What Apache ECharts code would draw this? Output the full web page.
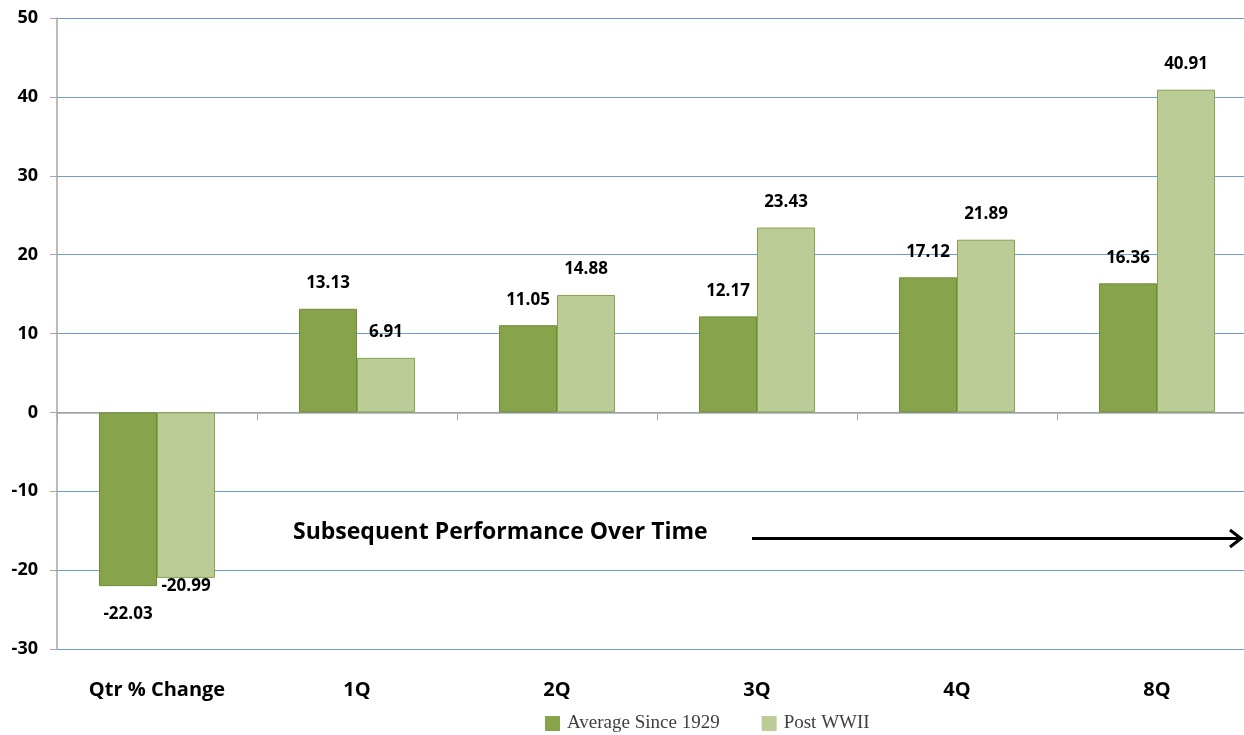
<!DOCTYPE html>
<html>
<head>
<meta charset="utf-8">
<script src="https://cdn.jsdelivr.net/npm/echarts@6/dist/echarts.min.js"></script>
<style>html,body{margin:0;padding:0;background:#fff}#c{width:1244px;height:735px}</style>
</head>
<body>
<div id="c"></div>
<script>
const categories = ['Qtr % Change', '1Q', '2Q', '3Q', '4Q', '8Q'];
const avgSince1929 = [-22.03, 13.13, 11.05, 12.17, 17.12, 16.36];
const postWWII = [-20.99, 6.91, 14.88, 23.43, 21.89, 40.91];
const seriesNames = ['Average Since 1929', 'Post WWII'];
const annotationText = 'Subsequent Performance Over Time';

const chart = echarts.init(document.getElementById('c'), null, {renderer: 'canvas'});
const sansBold = {fontFamily: 'Open Sans', fontWeight: 'bold', color: '#000'};

function toData(arr, negDist) {
  return arr.map((v) => {
    if (v < 0) {
      return {value: v, label: {position: 'bottom', distance: negDist}};
    }
    return {value: v};
  });
}

chart.setOption({
  animation: false,
  backgroundColor: '#fff',
  grid: {left: 57, top: 18, width: 1200, height: 631, containLabel: false, outerBoundsMode: 'none'},
  legend: {
    left: 545, top: 714, padding: 0, itemWidth: 15, itemHeight: 15, itemGap: 42,
    icon: 'rect',
    itemStyle: {borderWidth: 0},
    textStyle: {fontFamily: 'Liberation Serif', fontSize: 19, color: '#404040', padding: [0, 0, 0, 2]},
    data: seriesNames
  },
  xAxis: [{
    type: 'category', data: categories, position: 'bottom',
    axisLine: {show: false, onZero: false}, axisTick: {show: false},
    axisLabel: Object.assign({fontSize: 20, margin: 31}, sansBold)
  }, {
    type: 'category', data: categories, position: 'bottom',
    axisLine: {show: true, onZero: true, lineStyle: {color: '#A6A6A6', width: 1.5}},
    axisTick: {show: true, inside: false, length: 8, lineStyle: {color: '#A6A6A6'}},
    axisLabel: {show: false}
  }],
  yAxis: {
    type: 'value', min: -30, max: 50, interval: 10,
    axisLine: {show: true, lineStyle: {color: '#A6A6A6', width: 1.5}},
    axisTick: {show: true, length: 7, lineStyle: {color: '#A6A6A6'}},
    splitLine: {show: true, lineStyle: {color: '#6E9BD0', width: 1}},
    axisLabel: Object.assign({fontSize: 18, margin: 19}, sansBold)
  },
  series: [{
    name: seriesNames[0], type: 'bar', xAxisIndex: 0,
    data: toData(avgSince1929, 20),
    barGap: '0%', barCategoryGap: '42%',
    itemStyle: {color: '#87A44B', borderColor: '#6F8C38', borderWidth: 1},
    label: Object.assign({show: true, position: 'top', distance: 17, fontSize: 17}, sansBold)
  }, {
    name: seriesNames[1], type: 'bar', xAxisIndex: 0,
    data: toData(postWWII, 0),
    barGap: '0%', barCategoryGap: '42%',
    itemStyle: {color: '#BBCC96', borderColor: '#86A34E', borderWidth: 1},
    label: Object.assign({show: true, position: 'top', distance: 17, fontSize: 17}, sansBold)
  }],
  graphic: [
    {type: 'text', left: 293, top: 521,
     style: {text: annotationText, font: 'bold 23px "Open Sans"', fill: '#000'}},
    {type: 'line', shape: {x1: 752, y1: 538.5, x2: 1242, y2: 538.5},
     style: {stroke: '#000', lineWidth: 3}},
    {type: 'polyline', shape: {points: [[1230, 530], [1241, 538.5], [1230, 547]]},
     style: {stroke: '#000', lineWidth: 3, fill: null}}
  ]
});
</script>
</body>
</html>
